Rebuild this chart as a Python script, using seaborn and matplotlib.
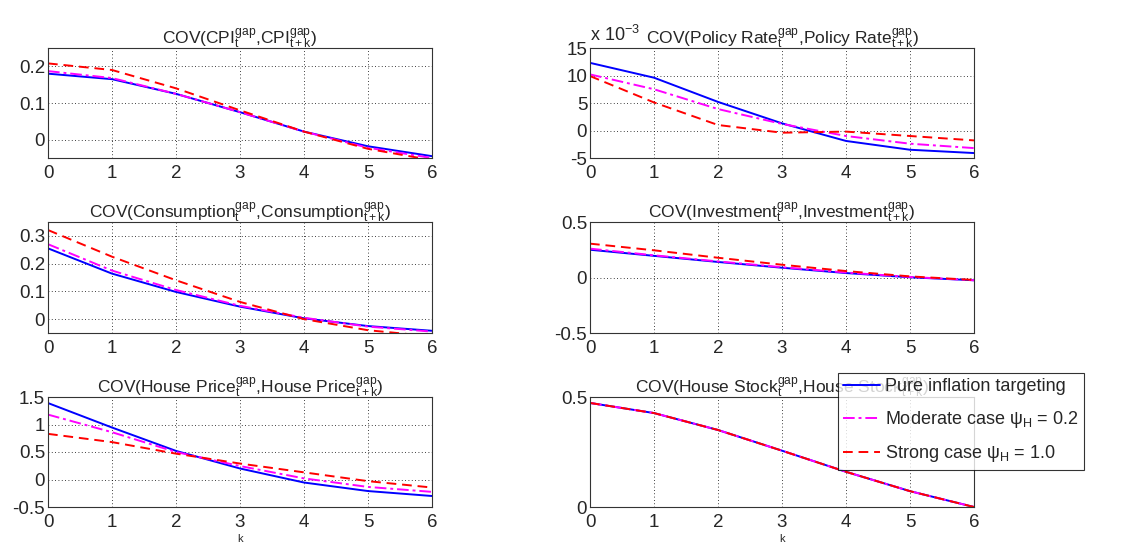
import numpy as np
import pandas as pd
import matplotlib
matplotlib.use("Agg")
import matplotlib.pyplot as plt
import seaborn as sns

k = [0, 1, 2, 3, 4, 5, 6]
cases = ["Pure inflation targeting", "Moderate case ψ$_\\mathrm{H}$ = 0.2", "Strong case ψ$_\\mathrm{H}$ = 1.0"]

cpi_pure = [0.180, 0.165, 0.125, 0.075, 0.022, -0.018, -0.045]
cpi_mod = [0.187, 0.168, 0.125, 0.075, 0.022, -0.022, -0.050]
cpi_strong = [0.208, 0.190, 0.140, 0.080, 0.022, -0.025, -0.056]

rate_pure = [12.3, 9.6, 5.2, 1.3, -1.9, -3.5, -4.1]   # x 1e-3
rate_mod = [10.2, 7.5, 3.9, 1.2, -1.0, -2.4, -3.2]
rate_strong = [9.9, 5.1, 1.0, -0.4, -0.2, -1.0, -1.8]

cons_pure = [0.255, 0.164, 0.098, 0.045, 0.003, -0.025, -0.042]
cons_mod = [0.270, 0.175, 0.105, 0.048, 0.005, -0.027, -0.045]
cons_strong = [0.321, 0.225, 0.140, 0.062, 0.000, -0.040, -0.062]

inv_pure = [0.250, 0.195, 0.140, 0.088, 0.040, 0.002, -0.025]
inv_mod = [0.260, 0.200, 0.145, 0.093, 0.045, 0.005, -0.025]
inv_strong = [0.305, 0.245, 0.178, 0.115, 0.058, 0.010, -0.022]

hp_pure = [1.39, 0.945, 0.52, 0.20, -0.055, -0.21, -0.30]
hp_mod = [1.18, 0.86, 0.50, 0.245, 0.02, -0.135, -0.225]
hp_strong = [0.83, 0.68, 0.47, 0.29, 0.13, -0.03, -0.146]

hs_pure = [0.473, 0.427, 0.350, 0.256, 0.160, 0.072, 0.000]
hs_mod = [0.473, 0.427, 0.350, 0.256, 0.160, 0.072, 0.000]
hs_strong = [0.473, 0.427, 0.350, 0.256, 0.160, 0.072, 0.000]

sns.set_style("white")
plt.rcParams["font.family"] = ["Liberation Sans", "DejaVu Sans"]
plt.rcParams["mathtext.fontset"] = "custom"
plt.rcParams["mathtext.rm"] = "Liberation Sans"
plt.rcParams["mathtext.it"] = "Liberation Sans:italic"
plt.rcParams["mathtext.sf"] = "Liberation Sans"

fig = plt.figure(figsize=(11.22, 5.44), dpi=100)

def title(v):
    return r"COV(%s$_\mathrm{t}^\mathrm{gap}$,%s$_\mathrm{t+k}^\mathrm{gap}$)" % (v, v)

panels = [
    (title("CPI"), (cpi_pure, cpi_mod, cpi_strong), (-0.05, 0.25), [0, 0.1, 0.2], ["0", "0.1", "0.2"]),
    (title("Policy Rate"), (rate_pure, rate_mod, rate_strong), (-5, 15), [-5, 0, 5, 10, 15], ["-5", "0", "5", "10", "15"]),
    (title("Consumption"), (cons_pure, cons_mod, cons_strong), (-0.05, 0.35), [0, 0.1, 0.2, 0.3], ["0", "0.1", "0.2", "0.3"]),
    (title("Investment"), (inv_pure, inv_mod, inv_strong), (-0.5, 0.5), [-0.5, 0, 0.5], ["-0.5", "0", "0.5"]),
    (title("House Price"), (hp_pure, hp_mod, hp_strong), (-0.5, 1.5), [-0.5, 0, 0.5, 1, 1.5], ["-0.5", "0", "0.5", "1", "1.5"]),
    (title("House Stock"), (hs_pure, hs_mod, hs_strong), (0, 0.5), [0, 0.5], ["0", "0.5"]),
]

lefts = [48 / 1122, 590 / 1122]
width = 384 / 1122
tops = [48, 222, 397]
bottoms = [158, 333, 507]

colors = ["#0000ff", "#ff00ff", "#ff0000"]
styles = ["-", (0, (6, 2, 1.5, 2)), (0, (5, 3))]

handles = []
for i, (ttl, series, ylim, yt, ytl) in enumerate(panels):
    r, c = divmod(i, 2)
    ax = fig.add_axes([lefts[c], 1 - bottoms[r] / 544, width, (bottoms[r] - tops[r]) / 544])
    for j, vals in enumerate(series):
        df = pd.DataFrame({"k": k, "v": vals})
        sns.lineplot(data=df, x="k", y="v", ax=ax, color=colors[j], linestyle=styles[j],
                     linewidth=1.4, label=cases[j] if i == 5 else None, legend=False)
    ax.set_xlim(0, 6)
    ax.set_ylim(*ylim)
    ax.set_xticks(k)
    ax.set_yticks(yt)
    ax.set_yticklabels(ytl)
    ax.tick_params(labelsize=13.5, direction="in", length=3)
    ax.tick_params(axis="y", pad=2)
    ax.tick_params(axis="x", pad=5)
    ax.grid(True, linestyle=(0, (1, 3)), color="black", linewidth=0.6)
    for s in ax.spines.values():
        s.set_color("#333333")
        s.set_linewidth(0.8)
    ax.set_ylabel("")
    ax.set_xlabel("k" if r == 2 else "", fontsize=8, labelpad=2)
    ax.set_title(ttl, fontsize=12.5, pad=3)
    if i == 1:
        ax.text(0.0, 1.03, r"x 10$^{-3}$", transform=ax.transAxes, fontsize=13, ha="left", va="bottom")
    if i == 5:
        handles, labels = ax.get_legend_handles_labels()

leg = fig.legend(handles, labels, loc="upper left", bbox_to_anchor=(838 / 1122, 1 - 373 / 544),
                 fontsize=13, frameon=True, fancybox=False, edgecolor="black",
                 handlelength=2.0, borderpad=0.3, labelspacing=0.75, handletextpad=0.3, borderaxespad=0)
leg.get_frame().set_linewidth(0.8)

fig.savefig("out.png", dpi=100, facecolor="white")
